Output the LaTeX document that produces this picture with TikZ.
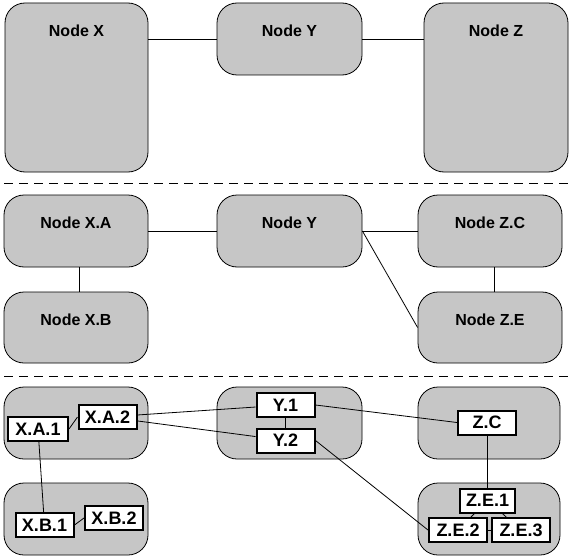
\documentclass[tikz,border=0pt]{standalone}
\usepackage{fontspec}
\setmainfont{Liberation Sans}
\definecolor{stipple}{RGB}{198,198,198}

\begin{document}
\begin{tikzpicture}[x=1pt, y=-1pt,
  grp/.style 2 args={rectangle, draw=black, fill=stipple, rounded corners=20pt,
                     line width=0.8pt, minimum width=#1, minimum height=#2, inner sep=0pt},
  lbl/.style={font=\fontsize{16}{18}\selectfont\bfseries, anchor=center, yshift=-28.5pt},
  box/.style={rectangle, draw=black, fill=white, line width=2pt,
              font=\fontsize{18}{20}\selectfont\bfseries, minimum width=58pt, minimum height=24pt, inner sep=0pt},
  conn/.style={line width=0.8pt},
  sep/.style={line width=0.8pt, dash pattern=on 9pt off 6pt},
]
  \fill[white] (0,0) rectangle (572,559);
  \useasboundingbox (0,0) rectangle (572,559);

  % Top level
  \node[grp={143pt}{169pt}, label={[lbl]north:Node X}] (x) at (76.5,87.5) {};
  \node[grp={145pt}{72pt},  label={[lbl]north:Node Y}] (y) at (289.5,39) {};
  \node[grp={144pt}{169pt}, label={[lbl]north:Node Z}] (z) at (496,87.5) {};
  \draw[conn] (y.west) -- (y.west -| x.east);
  \draw[conn] (y.east) -- (y.east -| z.west);

  \draw[sep] (4,183) -- (568,183);

  % Middle level
  \node[grp={144pt}{72pt}, label={[lbl]north:Node X.A}] (xa) at (76,231) {};
  \node[grp={144pt}{71pt}, label={[lbl]north:Node X.B}] (xb) at (76,327.5) {};
  \node[grp={145pt}{72pt}, label={[lbl]north:Node Y}]   (ym) at (289.5,231) {};
  \node[grp={144pt}{72pt}, label={[lbl]north:Node Z.C}] (zc) at (490,231) {};
  \node[grp={144pt}{71pt}, label={[lbl]north:Node Z.E}] (ze) at (490,327.5) {};
  \draw[conn] (xa.east) -- (ym.west);
  \draw[conn] ([xshift=3pt]xa.south) -- ([xshift=3pt]xb.north);
  \draw[conn] (ym.east) -- (zc.west);
  \draw[conn] (ym.east) -- (ze.west);
  \draw[conn] ([xshift=4pt]zc.south) -- ([xshift=4pt]ze.north);

  \draw[sep] (4,376) -- (568,376);

  % Bottom level: groups
  \node[grp={144pt}{72pt}] (gxa) at (76,423) {};
  \node[grp={144pt}{72pt}] (gxb) at (76,519) {};
  \node[grp={145pt}{72pt}] (gy)  at (289.5,423) {};
  \node[grp={142pt}{72pt}] (gzc) at (489,423) {};
  \node[grp={142pt}{72pt}] (gze) at (489,519) {};

  % Bottom level: boxes
  \node[box, minimum width=60pt] (xa1) at (38,429) {X.A.1};
  \node[box] (xa2) at (107.5,417) {X.A.2};
  \node[box] (xb1) at (44.5,525) {X.B.1};
  \node[box] (xb2) at (114,518) {X.B.2};
  \node[box] (y1)  at (285.5,405) {Y.1};
  \node[box] (y2)  at (285.5,440.5) {Y.2};
  \node[box] (bzc) at (487,422.5) {Z.C};
  \node[box, minimum width=55pt] (ze1) at (487.5,500.5) {Z.E.1};
  \node[box] (ze2) at (458,530) {Z.E.2};
  \node[box] (ze3) at (521,530) {Z.E.3};

  \draw[conn] (xa1.east) -- (xa2.west);
  \draw[conn] (xa1) -- (xb1);
  \draw[conn] (xb1.east) -- (xb2.west);
  \draw[conn] (xa2) -- (y1);
  \draw[conn] (xa2) -- (y2);
  \draw[conn] (y1) -- (y2);
  \draw[conn] (y1.east) -- (bzc.west);
  \draw[conn] (y2.east) -- (ze2.west);
  \draw[conn] (bzc) -- (bzc |- ze1.north);
  \draw[conn] (ze1) -- (ze2);
  \draw[conn] (ze1) -- (ze3);
  \draw[conn] (ze2.east) -- (ze3.west);
\end{tikzpicture}
\end{document}
